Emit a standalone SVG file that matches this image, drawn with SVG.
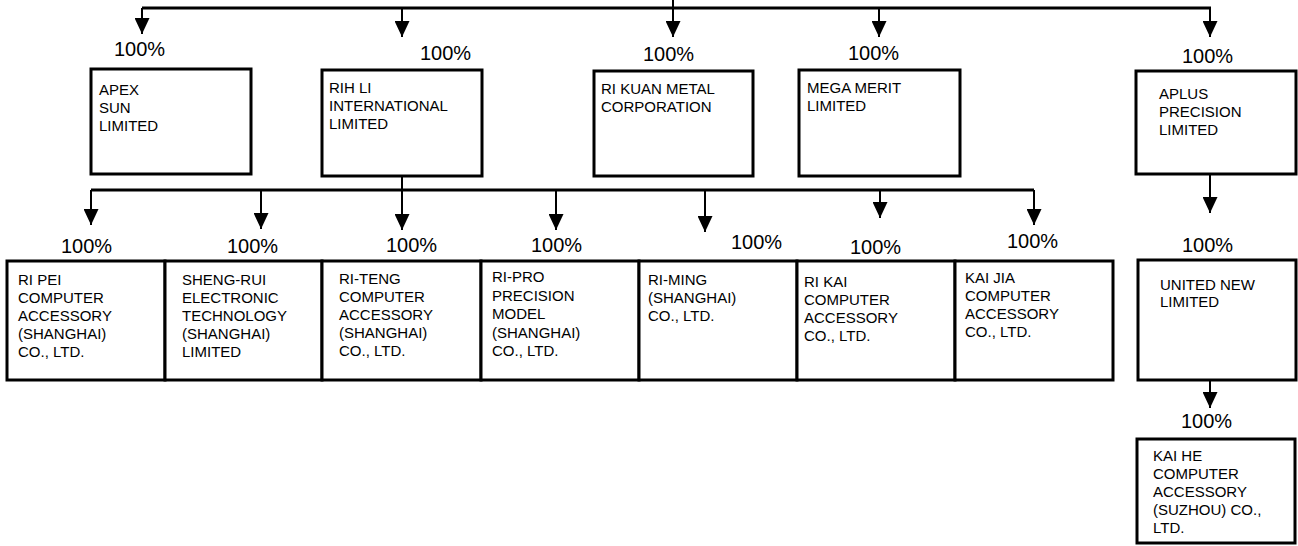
<svg xmlns="http://www.w3.org/2000/svg" width="1298" height="546" viewBox="0 0 1298 546">
<style>
.box{fill:#fff;stroke:#000;stroke-width:3}
.t{font-family:"Liberation Sans",Arial,sans-serif;font-size:15px;fill:#000}
.p{font-family:"Liberation Sans",Arial,sans-serif;font-size:20px;fill:#000}
.bus{stroke:#000;stroke-width:3;fill:none}
.drop{stroke:#000;stroke-width:2;fill:none;marker-end:url(#ah)}
.ln{stroke:#000;stroke-width:2;fill:none}
</style>
<defs>
<marker id="ah" viewBox="0 -7.5 16 15" refX="16" refY="0" markerWidth="16" markerHeight="15" markerUnits="userSpaceOnUse" orient="auto">
<path d="M0,-7.5 L16,0 L0,7.5 z" fill="#000"/>
</marker>
</defs>
<rect width="1298" height="546" fill="#fff"/>
<g id="connectors">
<path class="bus" d="M142,8 H1211"/>
<path class="ln" d="M673,0 V8"/>
<path class="drop" d="M142,8 V34"/>
<path class="drop" d="M402,8 V37"/>
<path class="drop" d="M673,8 V37"/>
<path class="drop" d="M879,8 V37"/>
<path class="drop" d="M1210,8 V37"/>
<path class="ln" d="M402,176 V190"/>
<path class="bus" d="M91,190 H1034"/>
<path class="drop" d="M91,190 V225"/>
<path class="drop" d="M261,190 V229"/>
<path class="drop" d="M402,190 V230"/>
<path class="drop" d="M556,190 V230"/>
<path class="drop" d="M705,190 V232"/>
<path class="drop" d="M880,190 V218"/>
<path class="drop" d="M1034,190 V225"/>
<path class="drop" d="M1210,174 V213"/>
<path class="drop" d="M1210,380 V408"/>
</g>
<g id="apex">
<text class="p" x="114" y="56">100%</text>
<rect class="box" x="91" y="69" width="160" height="105"/>
<text class="t" x="99" y="95">APEX</text>
<text class="t" x="99" y="113">SUN</text>
<text class="t" x="99" y="131">LIMITED</text>
</g>
<g id="rihli">
<text class="p" x="420" y="60">100%</text>
<rect class="box" x="322" y="70" width="160" height="106"/>
<text class="t" x="329" y="93">RIH LI</text>
<text class="t" x="329" y="111">INTERNATIONAL</text>
<text class="t" x="329" y="129">LIMITED</text>
</g>
<g id="rikuan">
<text class="p" x="643" y="61">100%</text>
<rect class="box" x="594" y="71" width="159" height="105"/>
<text class="t" x="601" y="94">RI KUAN METAL</text>
<text class="t" x="601" y="112">CORPORATION</text>
</g>
<g id="megamerit">
<text class="p" x="848" y="60">100%</text>
<rect class="box" x="799" y="70" width="161" height="106"/>
<text class="t" x="807" y="93">MEGA MERIT</text>
<text class="t" x="807" y="111">LIMITED</text>
</g>
<g id="aplus">
<text class="p" x="1182" y="63">100%</text>
<rect class="box" x="1136" y="71" width="160" height="103"/>
<text class="t" x="1159" y="99">APLUS</text>
<text class="t" x="1159" y="117">PRECISION</text>
<text class="t" x="1159" y="135">LIMITED</text>
</g>
<g id="ripei">
<text class="p" x="61" y="253">100%</text>
<rect class="box" x="7" y="261" width="158" height="119"/>
<text class="t" x="18" y="285">RI PEI</text>
<text class="t" x="18" y="303">COMPUTER</text>
<text class="t" x="18" y="321">ACCESSORY</text>
<text class="t" x="18" y="339">(SHANGHAI)</text>
<text class="t" x="18" y="357">CO., LTD.</text>
</g>
<g id="shengrui">
<text class="p" x="227" y="253">100%</text>
<rect class="box" x="165" y="261" width="157" height="119"/>
<text class="t" x="182" y="285">SHENG-RUI</text>
<text class="t" x="182" y="303">ELECTRONIC</text>
<text class="t" x="182" y="321">TECHNOLOGY</text>
<text class="t" x="182" y="339">(SHANGHAI)</text>
<text class="t" x="182" y="357">LIMITED</text>
</g>
<g id="riteng">
<text class="p" x="386" y="252">100%</text>
<rect class="box" x="322" y="261" width="159" height="119"/>
<text class="t" x="339" y="284">RI-TENG</text>
<text class="t" x="339" y="302">COMPUTER</text>
<text class="t" x="339" y="320">ACCESSORY</text>
<text class="t" x="339" y="338">(SHANGHAI)</text>
<text class="t" x="339" y="356">CO., LTD.</text>
</g>
<g id="ripro">
<text class="p" x="531" y="252">100%</text>
<rect class="box" x="481" y="261" width="158" height="119"/>
<text class="t" x="492" y="282">RI-PRO</text>
<text class="t" x="492" y="300.5">PRECISION</text>
<text class="t" x="492" y="319">MODEL</text>
<text class="t" x="492" y="337.5">(SHANGHAI)</text>
<text class="t" x="492" y="356">CO., LTD.</text>
</g>
<g id="riming">
<text class="p" x="731" y="249">100%</text>
<rect class="box" x="639" y="261" width="158" height="119"/>
<text class="t" x="648" y="285">RI-MING</text>
<text class="t" x="648" y="303">(SHANGHAI)</text>
<text class="t" x="648" y="321">CO., LTD.</text>
</g>
<g id="rikai">
<text class="p" x="850" y="254">100%</text>
<rect class="box" x="797" y="261" width="158" height="119"/>
<text class="t" x="804" y="287">RI KAI</text>
<text class="t" x="804" y="305">COMPUTER</text>
<text class="t" x="804" y="323">ACCESSORY</text>
<text class="t" x="804" y="341">CO., LTD.</text>
</g>
<g id="kaijia">
<text class="p" x="1007" y="248">100%</text>
<rect class="box" x="955" y="261" width="158" height="119"/>
<text class="t" x="965" y="283">KAI JIA</text>
<text class="t" x="965" y="301">COMPUTER</text>
<text class="t" x="965" y="319">ACCESSORY</text>
<text class="t" x="965" y="337">CO., LTD.</text>
</g>
<g id="unitednew">
<text class="p" x="1182" y="252">100%</text>
<rect class="box" x="1138" y="260" width="158" height="120"/>
<text class="t" x="1160" y="290">UNITED NEW</text>
<text class="t" x="1160" y="307">LIMITED</text>
</g>
<g id="kaihe">
<text class="p" x="1181" y="428">100%</text>
<rect class="box" x="1137" y="439" width="158" height="104"/>
<text class="t" x="1153" y="461">KAI HE</text>
<text class="t" x="1153" y="479">COMPUTER</text>
<text class="t" x="1153" y="497">ACCESSORY</text>
<text class="t" x="1153" y="515">(SUZHOU) CO.,</text>
<text class="t" x="1153" y="533">LTD.</text>
</g>
</svg>
